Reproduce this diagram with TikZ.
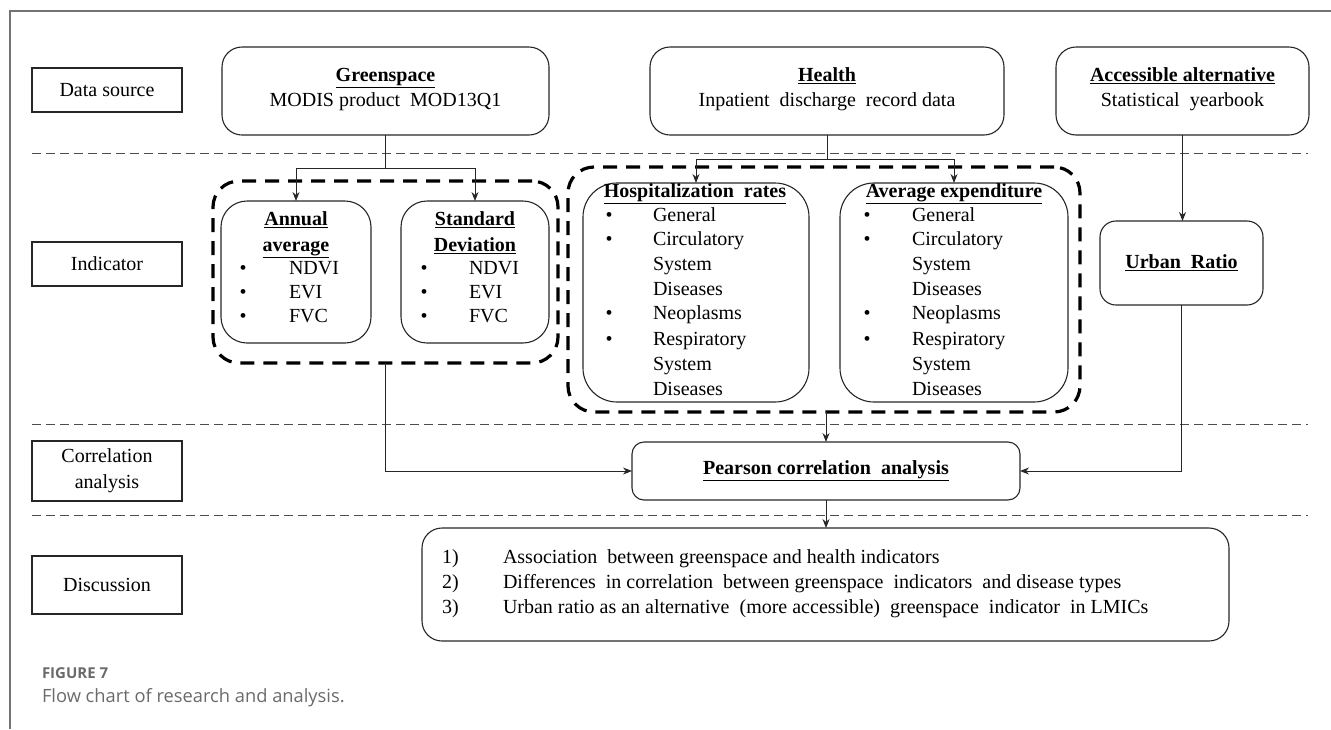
\documentclass[tikz,border=0pt]{standalone}
\usepackage{fontspec}
\setmainfont{Liberation Serif}
\newfontfamily\capfont{Open Sans}
\usetikzlibrary{arrows.meta}
\newcommand\fs{\fontsize{20}{24}\selectfont}
\definecolor{capgray}{HTML}{6A6A6A}
\begin{document}
\begin{tikzpicture}[x=1pt,y=-1pt,
  every node/.style={inner sep=0pt, outer sep=0pt},
  ln/.style={draw=black!85, line width=1.1pt},
  lab/.style={ln, minimum width=150pt, font=\fontsize{20}{26}\selectfont, align=center},
  rb/.style={ln, rounded corners=#1},
  rb/.default=18pt,
  grp/.style={draw=black, line width=3.2pt, dash pattern=on 14pt off 9pt, rounded corners=26pt},
  sep/.style={draw=black!70, line width=0.9pt, dash pattern=on 9pt off 5pt},
  arr/.style={draw=black!85, line width=1pt, -{Stealth[length=9pt,width=7pt]}},
  con/.style={draw=black!85, line width=1pt},
  txt/.style={font=\fs, anchor=mid},
  ttl/.style={font=\fs\bfseries, anchor=mid},
  itm/.style={font=\fs, anchor=mid west},
]
\useasboundingbox (0,0) rectangle (1331,729);
% frame
\draw[line width=1.5pt, black!55] (10,729) -- (10,11) -- (1331,11);

% separators
\draw[sep] (32,153) -- (1308,153);
\draw[sep] (32,424) -- (1308,424);
\draw[sep] (32,515) -- (1308,515);

% left labels
\node[lab, minimum height=44pt] (ds) at (107,90) {Data source};
\node[lab, minimum height=44pt] (ind) at (107,264) {Indicator};
\node[lab, minimum height=60pt] (cor) at (107,471) {Correlation\\analysis};
\node[lab, minimum height=58pt] (dis) at (107,585) {Discussion};

% data source boxes
\node[rb=20pt, minimum width=327pt, minimum height=88pt] (gs) at (385.5,91) {};
\node[ttl] (gst) at (385.5,79) {\underline{Greenspace}};
\node[txt] (gss) at (385.5,104) {MODIS product\ \ MOD13Q1};

\node[rb=20pt, minimum width=354pt, minimum height=88pt] (hl) at (827,91) {};
\node[ttl] (hlt) at (827,79) {\underline{Health}};
\node[txt] (hls) at (827,104) {Inpatient\ \ discharge\ \ record data};

\node[rb=20pt, minimum width=253pt, minimum height=88pt] (ac) at (1182.5,91) {};
\node[ttl] (act) at (1182.5,79) {\underline{Accessible alternative}};
\node[txt] (acs) at (1182.5,104) {Statistical\ \ yearbook};

% greenspace group
\node[grp, minimum width=345pt, minimum height=182pt] (ggrp) at (385.5,272) {};
\node[rb=26pt, minimum width=150pt, minimum height=142pt] (ann) at (296,272) {};
\node[rb=26pt, minimum width=148pt, minimum height=142pt] (std) at (475,272) {};
\node[ttl] (annt1) at (296,223) {\underline{Annual}};
\node[ttl] (annt2) at (296,249) {\underline{average}};
\node[ttl] (stdt1) at (475,223) {\underline{Standard}};
\node[ttl] (stdt2) at (475,249) {\underline{Deviation}};
\foreach \t [count=\i] in {NDVI,EVI,FVC}{
  \pgfmathsetmacro\yy{248+24*\i}
  \node[txt] (annb\i) at (243,\yy) {•};
  \node[itm] (anni\i) at (289,\yy) {\t};
  \node[txt] (stdb\i) at (424,\yy) {•};
  \node[itm] (stdi\i) at (469,\yy) {\t};
}

% health group
\node[grp, minimum width=512pt, minimum height=245pt] (hgrp) at (824,289.5) {};
\node[rb=34pt, minimum width=226pt, minimum height=219pt] (hos) at (696,292.5) {};
\node[rb=34pt, minimum width=228pt, minimum height=219pt] (avg) at (954,292.5) {};
\node[ttl] (host) at (695,195) {\underline{Hospitalization\ \ rates}};
\node[ttl] (avgt) at (954,195) {\underline{Average expenditure}};
\foreach \t/\yy [count=\i] in {General/219,Circulatory/243,System/268,Diseases/293,Neoplasms/317,Respiratory/343,System/368,Diseases/393}{
  \node[itm] (hosi\i) at (653,\yy) {\t};
  \node[itm] (avgi\i) at (912,\yy) {\t};
}
\foreach \yy [count=\i] in {219,243,317,343}{
  \node[txt] (hosb\i) at (609,\yy) {•};
  \node[txt] (avgb\i) at (867,\yy) {•};
}

% urban ratio
\node[rb=16pt, minimum width=163pt, minimum height=84pt, font=\fs\bfseries] (urb) at (1181.5,263) {\underline{Urban\ \ Ratio}};

% pearson
\node[rb=12pt, minimum width=388pt, minimum height=58pt, font=\fs\bfseries] (pear) at (826,471) {\underline{Pearson correlation\ \ analysis}};

% discussion box
\node[rb=20pt, minimum width=807pt, minimum height=113pt] (disc) at (825.5,584.5) {};
\node[itm] (n1) at (442,561) {1)};
\node[itm] (n2) at (442,586) {2)};
\node[itm] (n3) at (442,611) {3)};
\node[itm] (d1) at (503,561) {Association\ \ between greenspace and health indicators};
\node[itm] (d2) at (503,586) {Differences\ \ in correlation\ \ between greenspace\ \ indicators\ \ and disease types};
\node[itm] (d3) at (503,611) {Urban ratio as an alternative\ \ (more accessible)\ \ greenspace\ \ indicator\ \ in LMICs};

% connectors
\coordinate (gsj) at (385.5,168);
\draw[con] (gs.south) -- (gsj);
\draw[arr] (gsj) -| (ann.north);
\draw[arr] (gsj) -| (std.north);
\coordinate (hj) at (827,159);
\draw[con] (hl.south) -- (hj);
\draw[arr] (hj) -| (hos.north);
\draw[arr] (hj) -| (avg.north);
\draw[arr] (ac.south) -- (ac.south |- urb.north);
\draw[arr] (ggrp.south) |- (pear.west);
\draw[arr] (pear.north |- hgrp.south) -- (pear.north);
\draw[arr] (urb.south) |- (pear.east);
\draw[arr] (pear.south) -- (pear.south |- disc.north);

% caption
\node[anchor=mid west, font=\capfont\bfseries\fontsize{15}{17}\selectfont, text=capgray] (cap1) at (42,676) {FIGURE 7};
\node[anchor=mid west, font=\capfont\fontsize{18.3}{20}\selectfont, text=capgray] (cap2) at (42,700) {Flow chart of research and analysis.};
\end{tikzpicture}
\end{document}
